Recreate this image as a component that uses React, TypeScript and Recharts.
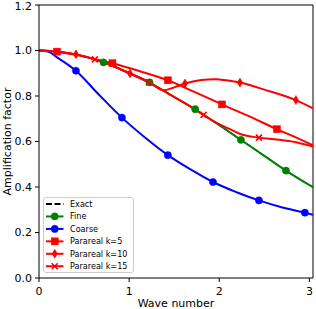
import React from 'react';
import { ComposedChart, Line, Scatter, XAxis, YAxis, ReferenceLine, Legend, Label } from 'recharts';

// ---- data ----
const fineX = [0, 0.2, 0.41, 0.62, 0.815, 1.01, 1.22, 1.43, 1.6, 1.826, 1.95, 2.1, 2.24, 2.5, 2.74, 3.04];
const fineY = [1.0, 0.995, 0.983, 0.961, 0.933, 0.899, 0.86, 0.812, 0.773, 0.717, 0.685, 0.645, 0.607, 0.537, 0.472, 0.399];
const fineMarkX = [0.715, 1.226, 1.733, 2.24, 2.74];
const fineMarkY = [0.948, 0.86, 0.742, 0.607, 0.472];

const exactX = fineX;
const exactY = fineY;

const coarseX = [0, 0.1, 0.2, 0.41, 0.65, 0.92, 1.2, 1.43, 1.7, 1.93, 2.2, 2.44, 2.7, 2.95, 3.04];
const coarseY = [1.0, 0.995, 0.97, 0.911, 0.812, 0.705, 0.61, 0.54, 0.473, 0.422, 0.376, 0.341, 0.31, 0.287, 0.278];
const coarseMarkX = [0.41, 0.92, 1.43, 1.93, 2.44, 2.95];
const coarseMarkY = [0.911, 0.705, 0.54, 0.422, 0.341, 0.287];

const k5X = [0, 0.2, 0.5, 0.815, 1.12, 1.43, 1.73, 2.03, 2.34, 2.64, 2.85, 3.04];
const k5Y = [1.0, 0.995, 0.973, 0.944, 0.909, 0.869, 0.817, 0.763, 0.709, 0.654, 0.618, 0.583];
const k5MarkX = [0.2, 0.815, 1.43, 2.03, 2.64];
const k5MarkY = [0.995, 0.944, 0.869, 0.763, 0.654];

const k10X = [0, 0.2, 0.41, 0.715, 1.01, 1.226, 1.38, 1.5, 1.62, 1.8, 1.95, 2.1, 2.23, 2.5, 2.85, 3.04];
const k10Y = [1.0, 0.995, 0.983, 0.948, 0.899, 0.86, 0.825, 0.838, 0.855, 0.870, 0.874, 0.868, 0.859, 0.828, 0.782, 0.746];
const k10MarkX = [0.41, 1.01, 1.62, 2.23, 2.85];
const k10MarkY = [0.983, 0.899, 0.855, 0.859, 0.782];

const k15X = [0, 0.2, 0.41, 0.62, 0.815, 1.01, 1.22, 1.43, 1.6, 1.826, 1.95, 2.1, 2.24, 2.44, 2.64, 2.85, 3.04];
const k15Y = [1.0, 0.995, 0.983, 0.961, 0.933, 0.899, 0.86, 0.812, 0.773, 0.717, 0.686, 0.658, 0.632, 0.617, 0.609, 0.597, 0.578];
const k15MarkX = [0.62, 1.22, 1.826, 2.44];
const k15MarkY = [0.961, 0.86, 0.717, 0.617];

const xTicks = [0, 1, 2, 3];
const yTicks = [0, 0.2, 0.4, 0.6, 0.8, 1.0, 1.2];
const legendLabels = ['Exact', 'Fine', 'Coarse', 'Parareal k=5', 'Parareal k=10', 'Parareal k=15'];

const X_MAX = 3.04;
const FONT = 'DejaVu Sans, sans-serif';
const BLUE = '#0000ff';
const GREEN = '#008000';
const RED = '#ff0000';

const zip = (xs: number[], ys: number[]) => xs.map((x, i) => ({ x, y: ys[i] }));

type Kind = 'circle' | 'square' | 'diamond' | 'x' | 'none';

function Marker({ kind, cx, cy, color }: { kind: Kind; cx: number; cy: number; color: string }) {
  if (cx == null || cy == null) return null;
  switch (kind) {
    case 'circle':
      return <circle cx={cx} cy={cy} r={3.6} fill={color} stroke={color} strokeWidth={0.5} />;
    case 'square':
      return <rect x={cx - 3.5} y={cy - 3.5} width={7} height={7} fill={color} stroke={color} strokeWidth={0.5} />;
    case 'diamond':
      return (
        <polygon
          points={`${cx},${cy - 4.5} ${cx + 2.7},${cy} ${cx},${cy + 4.5} ${cx - 2.7},${cy}`}
          fill={color}
          stroke={color}
          strokeWidth={0.5}
        />
      );
    case 'x':
      return (
        <g stroke={color} strokeWidth={1.6}>
          <line x1={cx - 3} y1={cy - 3} x2={cx + 3} y2={cy + 3} />
          <line x1={cx - 3} y1={cy + 3} x2={cx + 3} y2={cy - 3} />
        </g>
      );
    default:
      return null;
  }
}

const legendItems: { color: string; kind: Kind; dashed?: boolean }[] = [
  { color: '#000000', kind: 'none', dashed: true },
  { color: GREEN, kind: 'circle' },
  { color: BLUE, kind: 'circle' },
  { color: RED, kind: 'square' },
  { color: RED, kind: 'diamond' },
  { color: RED, kind: 'x' },
];

function LegendBox() {
  const w = 91;
  const h = 76;
  return (
    <svg width={w} height={h} style={{ display: 'block' }}>
      <rect x={0.5} y={0.5} width={w - 1} height={h - 1} rx={2.5} fill="#ffffff" fillOpacity={0.8} stroke="#cccccc" strokeWidth={1} />
      {legendItems.map((it, i) => {
        const cy = 7 + i * 12.45;
        return (
          <g key={i}>
            <line x1={3} y1={cy} x2={20.5} y2={cy} stroke={it.color} strokeWidth={2} strokeDasharray={it.dashed ? '6 2.5' : undefined} />
            <Marker kind={it.kind} cx={11.75} cy={cy} color={it.color} />
            <text x={27} y={cy} dy="0.35em" fontSize={8.1} fontFamily={FONT} fill="#000">
              {legendLabels[i]}
            </text>
          </g>
        );
      })}
    </svg>
  );
}

const shape = (kind: Kind, color: string) => (props: any) => <Marker kind={kind} cx={props.cx} cy={props.cy} color={color} />;

export default function App() {
  const tickStyle = { fill: '#000', fontSize: 11, fontFamily: FONT };
  return (
    <div style={{ position: 'absolute', left: 0, top: 0, width: 316, height: 309, background: '#fff' }}>
      <ComposedChart width={316} height={309} margin={{ top: 5, right: 3, left: 0, bottom: 0 }}>
        <XAxis
          type="number"
          dataKey="x"
          domain={[0, X_MAX]}
          ticks={xTicks}
          allowDataOverflow
          height={31}
          tick={tickStyle}
          tickSize={4}
          tickMargin={5}
          stroke="#000"
          tickLine={{ stroke: '#000' }}
          axisLine={{ stroke: '#000', strokeWidth: 1 }}
        >
          <Label value="Wave number" position="insideBottom" offset={2} style={{ fontSize: 11, fontFamily: FONT, fill: '#000' }} />
        </XAxis>
        <YAxis
          type="number"
          domain={[0, 1.2]}
          ticks={yTicks}
          allowDataOverflow
          width={39}
          tick={tickStyle}
          tickSize={4}
          tickMargin={3}
          tickFormatter={(v: number) => v.toFixed(1)}
          stroke="#000"
          tickLine={{ stroke: '#000' }}
          axisLine={{ stroke: '#000', strokeWidth: 1 }}
        >
          <Label
            value="Amplification factor"
            angle={-90}
            position="insideLeft"
            offset={7}
            style={{ fontSize: 11, fontFamily: FONT, fill: '#000', textAnchor: 'middle' }}
          />
        </YAxis>
        <ReferenceLine y={1.2} stroke="#000" strokeWidth={1} />
        <ReferenceLine x={X_MAX} stroke="#000" strokeWidth={1} />

        <Line data={zip(exactX, exactY)} dataKey="y" type="monotone" stroke="#000" strokeWidth={1.2} strokeDasharray="6 2.5" dot={false} isAnimationActive={false} />
        <Line data={zip(fineX, fineY)} dataKey="y" type="monotone" stroke={GREEN} strokeWidth={2} dot={false} isAnimationActive={false} />
        <Scatter data={zip(fineMarkX, fineMarkY)} dataKey="y" shape={shape('circle', GREEN)} isAnimationActive={false} />
        <Line data={zip(coarseX, coarseY)} dataKey="y" type="monotone" stroke={BLUE} strokeWidth={2} dot={false} isAnimationActive={false} />
        <Scatter data={zip(coarseMarkX, coarseMarkY)} dataKey="y" shape={shape('circle', BLUE)} isAnimationActive={false} />
        <Line data={zip(k5X, k5Y)} dataKey="y" type="monotone" stroke={RED} strokeWidth={2} dot={false} isAnimationActive={false} />
        <Scatter data={zip(k5MarkX, k5MarkY)} dataKey="y" shape={shape('square', RED)} isAnimationActive={false} />
        <Line data={zip(k10X, k10Y)} dataKey="y" type="monotone" stroke={RED} strokeWidth={2} dot={false} isAnimationActive={false} />
        <Scatter data={zip(k10MarkX, k10MarkY)} dataKey="y" shape={shape('diamond', RED)} isAnimationActive={false} />
        <Line data={zip(k15X, k15Y)} dataKey="y" type="monotone" stroke={RED} strokeWidth={2} dot={false} isAnimationActive={false} />
        <Scatter data={zip(k15MarkX, k15MarkY)} dataKey="y" shape={shape('x', RED)} isAnimationActive={false} />

        <Legend
          layout="vertical"
          align="center"
          verticalAlign="middle"
          content={() => <LegendBox />}
          wrapperStyle={{ position: 'absolute', left: 43, top: 197, width: 91, height: 76 }}
        />
      </ComposedChart>
    </div>
  );
}
